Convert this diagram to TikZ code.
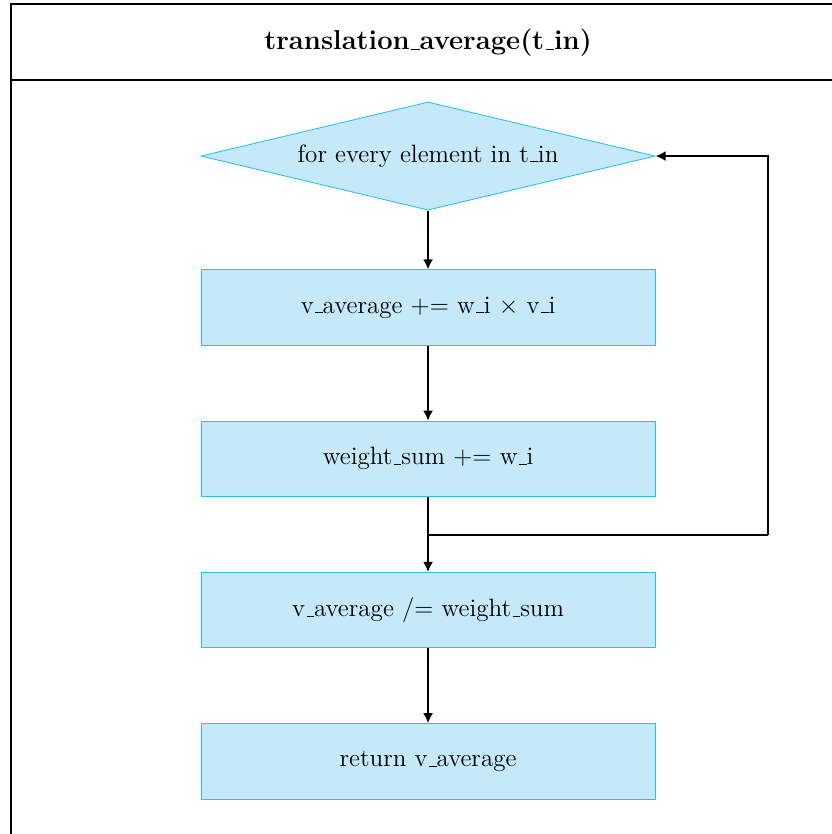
\documentclass[tikz,border=0pt]{standalone}
\usepackage{amsmath}
\usepackage{tikz}
\usetikzlibrary{arrows, arrows.meta, positioning, shapes.geometric, calc}
\definecolor{boxfill}{RGB}{197,233,248}
\definecolor{boxline}{RGB}{40,190,240}
\newcommand{\us}{\leavevmode\kern.06em\vbox{\hrule width.3em}}
\tikzset{%
	lane/.style={draw, line width=0.9pt},
	decision/.style={draw=boxline, fill=boxfill, diamond, aspect=4.2, inner sep=0mm,%
		minimum width=7.64cm, minimum height=1.82cm, font=\fontsize{12}{14}\selectfont},
	process/.style={draw=boxline, fill=boxfill, rectangle, minimum width=7.64cm,%
		minimum height=1.27cm, font=\fontsize{12}{14}\selectfont},
	flow/.style={-{Latex[length=4.8pt, width=4.8pt]}, line width=0.9pt},
	loopback/.style={line width=0.9pt}
}
\begin{document}
\begin{tikzpicture}
	\useasboundingbox (0,0) rectangle (13.994,-14.028);
	\draw[lane] (0.185,-15) |- (15,-0.067);
	\draw[lane] (0.185,-1.346) -- (15,-1.346);
	\node[font=\fontsize{13.1}{15}\selectfont\bfseries] (title) at (7.20,-0.72) {translation\us average(t\us in)};

	\node[decision] (loop) at (7.20,-2.625) {for every element in t\us in};
	\node[process, below=0.99cm of loop] (vsum) {v\us average += w\us i $\times$ v\us i};
	\node[process, below=1.26cm of vsum] (wsum) {weight\us sum += w\us i};
	\node[process, below=1.26cm of wsum] (vdiv) {v\us average /= weight\us sum};
	\node[process, below=1.26cm of vdiv] (ret) {return v\us average};

	\coordinate (split) at ($(wsum.south)!0.5!(vdiv.north)+(0,-0.01)$);
	\coordinate[right=5.72cm of split] (back);

	\draw[flow] (loop) to (vsum);
	\draw[flow] (vsum) to (wsum);
	\draw[flow] (wsum) to (vdiv);
	\draw[flow] (vdiv) to (ret);
	\draw[loopback] (split) -- (back);
	\draw[flow] (back) |- (loop.east);
\end{tikzpicture}
\end{document}
